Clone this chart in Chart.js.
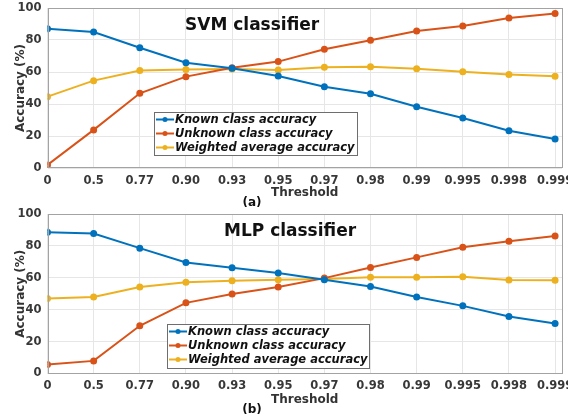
<!DOCTYPE html>
<html>
<head>
<meta charset="utf-8">
<script src="https://cdn.jsdelivr.net/npm/chart.js@4/dist/chart.umd.min.js"></script>
<style>
  html, body { margin: 0; padding: 0; background: #fff; }
  canvas { display: block; }
</style>
</head>
<body>
<canvas id="svmCanvas" width="568" height="207"></canvas>
<canvas id="mlpCanvas" width="568" height="207"></canvas>
<script>
// Umbrales (eje x) y precisiones (%)
const thresholds = ['0', '0.5', '0.77', '0.90', '0.93', '0.95', '0.97', '0.98', '0.99', '0.995', '0.998', '0.999'];
const seriesNames = ['Known class accuracy', 'Unknown class accuracy', 'Weighted average accuracy'];
const yTicks = [0, 20, 40, 60, 80, 100];

const svmKnown    = [87, 85, 75.2, 65.8, 62.3, 57.5, 50.8, 46.4, 38.3, 31.2, 23.3, 18.1];
const svmUnknown  = [1.9, 23.8, 46.7, 57.1, 62.7, 66.5, 74.2, 79.8, 85.6, 88.8, 93.8, 96.5];
const svmWeighted = [44.6, 54.6, 61, 61.5, 61.9, 61.3, 62.9, 63.3, 62.1, 60.2, 58.5, 57.3];

const mlpKnown    = [88.5, 87.8, 78.6, 69.6, 66.3, 63, 58.8, 54.5, 48, 42.4, 35.8, 31.4];
const mlpUnknown  = [5.6, 7.9, 29.9, 44.3, 49.8, 54.2, 59.8, 66.5, 72.8, 79.1, 82.9, 86.2];
const mlpWeighted = [47, 48, 54.2, 57.2, 58.2, 58.8, 59.2, 60.4, 60.3, 60.7, 58.6, 58.4];

const COLORS = ['#0072BD', '#D95319', '#EDB120'];
const FONT = '"DejaVu Sans", sans-serif';

// Caja, título interno, leyenda y etiqueta (a)/(b) al estilo MATLAB
const panelDecor = {
  id: 'panelDecor',
  afterDraw(chart, args, o) {
    const ctx = chart.ctx, a = chart.chartArea;
    ctx.save();
    ctx.strokeStyle = '#a3a3a3';
    ctx.lineWidth = 1;
    ctx.strokeRect(Math.round(a.left) + 0.5, Math.round(a.top) + 0.5,
      Math.round(a.right - a.left) - 1, Math.round(a.bottom - a.top) - 1);

    ctx.fillStyle = '#111';
    ctx.textBaseline = 'middle';
    ctx.textAlign = 'left';
    ctx.font = 'bold 17px ' + FONT;
    ctx.fillText(o.title, o.titleX, o.titleY);

    const L = o.legend;
    ctx.fillStyle = '#fff';
    ctx.fillRect(L.x, L.y, L.w, L.h);
    ctx.strokeStyle = '#6e6e6e';
    ctx.strokeRect(L.x + 0.5, L.y + 0.5, L.w, L.h);
    ctx.font = 'italic bold 11.5px ' + FONT;
    chart.data.datasets.forEach((ds, i) => {
      const y = L.y + 7.5 + i * 14;
      ctx.strokeStyle = ds.borderColor;
      ctx.lineWidth = 2;
      ctx.beginPath();
      ctx.moveTo(L.x + 2, y);
      ctx.lineTo(L.x + 20, y);
      ctx.stroke();
      ctx.fillStyle = ds.borderColor;
      ctx.beginPath();
      ctx.arc(L.x + 11, y, 2.5, 0, Math.PI * 2);
      ctx.fill();
      ctx.fillStyle = '#111';
      ctx.fillText(ds.label, L.x + 21, y + 0.5);
    });

    ctx.textAlign = 'center';
    ctx.font = 'bold 12px ' + FONT;
    ctx.fillText(o.tag, o.tagX, o.tagY);
    ctx.restore();
  }
};

function makeChart(id, values, deco, top, xAxisH) {
  const datasets = values.map((vals, i) => ({
    label: seriesNames[i],
    data: vals.map((v, k) => ({ x: k, y: v })),
    borderColor: COLORS[i],
    backgroundColor: COLORS[i],
    borderWidth: 2,
    pointRadius: 2.5,
    pointHoverRadius: 3,
    tension: 0,
  }));
  return new Chart(document.getElementById(id), {
    type: 'line',
    data: { datasets },
    plugins: [panelDecor],
    options: {
      responsive: false,
      animation: false,
      devicePixelRatio: 1,
      layout: { padding: { left: 0, right: 6, top: top, bottom: 0 } },
      plugins: {
        legend: { display: false },
        tooltip: { enabled: false },
        panelDecor: deco,
      },
      scales: {
        x: {
          type: 'linear', min: 0, max: 11.15,
          // el último rótulo se corta en el borde, como en la figura
          afterFit: (s) => { s.height = xAxisH; s.paddingLeft = 0; s.paddingRight = 0; },
          grid: { color: '#e6e6e6', drawTicks: false },
          border: { display: false },
          ticks: {
            stepSize: 1, includeBounds: false, autoSkip: false, maxRotation: 0,
            padding: 6, color: '#383838', font: { family: FONT, size: 11.5, weight: 'bold' },
            callback: (v) => thresholds[v] ?? '',
          },
          title: {
            display: true, text: 'Threshold', color: '#333',
            font: { family: FONT, size: 12, weight: 'bold' },
            padding: { top: 7, bottom: 7 },
          },
        },
        y: {
          min: 0, max: 100,
          afterFit: (s) => { s.width = 47.5; s.paddingTop = 0; s.paddingBottom = 0; },
          afterBuildTicks: (s) => { s.ticks = yTicks.map((v) => ({ value: v })); },
          grid: { color: '#e6e6e6', drawTicks: false },
          border: { display: false },
          ticks: {
            padding: 6, color: '#383838', font: { family: FONT, size: 11.5, weight: 'bold' },
          },
          title: {
            display: true, text: 'Accuracy (%)', color: '#333',
            font: { family: FONT, size: 12, weight: 'bold' },
            padding: { top: 14, bottom: 14 },
          },
        },
      },
    },
  });
}

makeChart('svmCanvas', [svmKnown, svmUnknown, svmWeighted], {
  title: 'SVM classifier', titleX: 185, titleY: 26,
  legend: { x: 154, y: 112, w: 203, h: 43 },
  tag: '(a)', tagX: 252, tagY: 203,
}, 8, 39);

makeChart('mlpCanvas', [mlpKnown, mlpUnknown, mlpWeighted], {
  title: 'MLP classifier', titleX: 224, titleY: 25,
  legend: { x: 167, y: 117, w: 202, h: 44 },
  tag: '(b)', tagX: 252, tagY: 203,
}, 7, 40.5);
</script>
</body>
</html>
